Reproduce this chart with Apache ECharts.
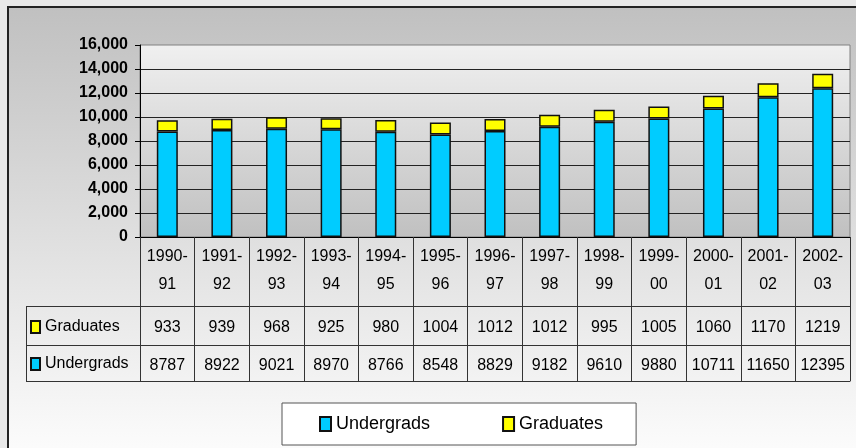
<!DOCTYPE html>
<html>
<head>
<meta charset="utf-8">
<script src="https://cdn.jsdelivr.net/npm/echarts@6/dist/echarts.min.js"></script>
<style>
html,body{margin:0;padding:0;background:#e8e8e8;}
#c{width:856px;height:448px;}
</style>
</head>
<body>
<div id="c"></div>
<script>
var categories = ['1990-91','1991-92','1992-93','1993-94','1994-95','1995-96','1996-97','1997-98','1998-99','1999-00','2000-01','2001-02','2002-03'];
var undergrads = [8787, 8922, 9021, 8970, 8766, 8548, 8829, 9182, 9610, 9880, 10711, 11650, 12395];
var graduates = [933, 939, 968, 925, 980, 1004, 1012, 1012, 995, 1005, 1060, 1170, 1219];
var yTicks = [0, 2000, 4000, 6000, 8000, 10000, 12000, 14000, 16000];

var FONT = '"Liberation Sans", Arial, sans-serif';
var LINE = '#333';
var chart = echarts.init(document.getElementById('c'), null, {renderer: 'canvas'});

function tableAxis(offset, values, margin) {
  return {
    type: 'category', position: 'bottom', gridIndex: 0, offset: offset,
    data: categories,
    axisLine: {show: true, lineStyle: {color: LINE, width: 1}},
    axisTick: {show: false},
    axisLabel: {
      show: !!values, interval: 0, margin: margin, color: '#000',
      fontFamily: FONT, fontSize: 16, lineHeight: 20,
      formatter: function (v, i) { return values ? String(values[i]) : ''; }
    },
    splitLine: {show: false}
  };
}

var option = {
  animation: false,
  backgroundColor: '#e8e8e8',
  graphic: [
    {
      type: 'rect', z: -100, silent: true,
      shape: {x: 8, y: 7, width: 900, height: 445},
      style: {
        fill: new echarts.graphic.LinearGradient(0, 0, 0, 1, [
          {offset: 0, color: '#c0c0c0'}, {offset: 1, color: '#fcfcfc'}
        ]),
        stroke: '#222', lineWidth: 2
      }
    },
    {type: 'line', silent: true, shape: {x1: 26, y1: 306.5, x2: 140, y2: 306.5}, style: {stroke: LINE, lineWidth: 1}},
    {type: 'line', silent: true, shape: {x1: 26, y1: 345.5, x2: 140, y2: 345.5}, style: {stroke: LINE, lineWidth: 1}},
    {type: 'line', silent: true, shape: {x1: 26, y1: 381.5, x2: 140, y2: 381.5}, style: {stroke: LINE, lineWidth: 1}},
    {type: 'line', silent: true, shape: {x1: 26.5, y1: 306, x2: 26.5, y2: 382}, style: {stroke: LINE, lineWidth: 1}}
  ],
  legend: [
    {
      data: ['Undergrads', 'Graduates'],
      icon: 'rect',
      left: 282, top: 403,
      padding: [12, 33, 12, 37],
      backgroundColor: '#fff', borderColor: '#555', borderWidth: 1,
      itemWidth: 11, itemHeight: 14, itemGap: 72,
      selectedMode: false,
      textStyle: {fontFamily: FONT, fontSize: 18, color: '#000'}
    },
    {
      data: ['Graduates', 'Undergrads'],
      icon: 'rect',
      orient: 'vertical',
      left: 30, top: 319,
      padding: 0,
      itemWidth: 9, itemHeight: 12, itemGap: 21,
      selectedMode: false,
      textStyle: {fontFamily: FONT, fontSize: 16, color: '#000'}
    }
  ],
  grid: {
    left: 140, right: 6, top: 45, bottom: 211,
    show: true,
    backgroundColor: new echarts.graphic.LinearGradient(0, 0, 0, 1, [
      {offset: 0, color: '#f0f0f0'}, {offset: 1, color: '#c0c0c0'}
    ]),
    borderColor: '#808080', borderWidth: 1
  },
  xAxis: [
    {
      type: 'category', position: 'bottom', data: categories,
      axisLine: {show: true, lineStyle: {color: '#000', width: 1}},
      axisTick: {show: true, inside: false, length: 144, interval: 0, lineStyle: {color: LINE, width: 1}},
      axisLabel: {
        interval: 0, margin: 6, color: '#000', fontFamily: FONT, fontSize: 16, lineHeight: 28,
        formatter: function (v) { var p = v.split('-'); return p[0] + '-\n' + p[1]; }
      },
      splitLine: {show: false}
    },
    tableAxis(69, graduates, 12),
    tableAxis(108, undergrads, 11),
    tableAxis(144, null, 8)
  ],
  yAxis: {
    type: 'value', min: yTicks[0], max: yTicks[yTicks.length - 1], interval: yTicks[1] - yTicks[0],
    axisLine: {show: true, lineStyle: {color: '#000', width: 1}},
    axisTick: {show: true, length: 5, lineStyle: {color: '#000'}},
    axisLabel: {
      margin: 12, color: '#000', fontFamily: FONT, fontSize: 16, fontWeight: 'bold',
      formatter: function (v) { return v.toLocaleString('en-US'); }
    },
    splitLine: {show: true, showMaxLine: false, lineStyle: {color: '#222', width: 1}}
  },
  series: [
    {
      name: 'Undergrads', type: 'bar', stack: 'total', xAxisIndex: 0, barWidth: 21,
      data: undergrads,
      itemStyle: {color: '#00ccff', borderColor: '#111', borderWidth: 1.5}
    },
    {
      name: 'Graduates', type: 'bar', stack: 'total', xAxisIndex: 0, barWidth: 21,
      data: graduates,
      itemStyle: {color: '#ffff00', borderColor: '#111', borderWidth: 1.5}
    }
  ]
};
chart.setOption(option);
</script>
</body>
</html>
